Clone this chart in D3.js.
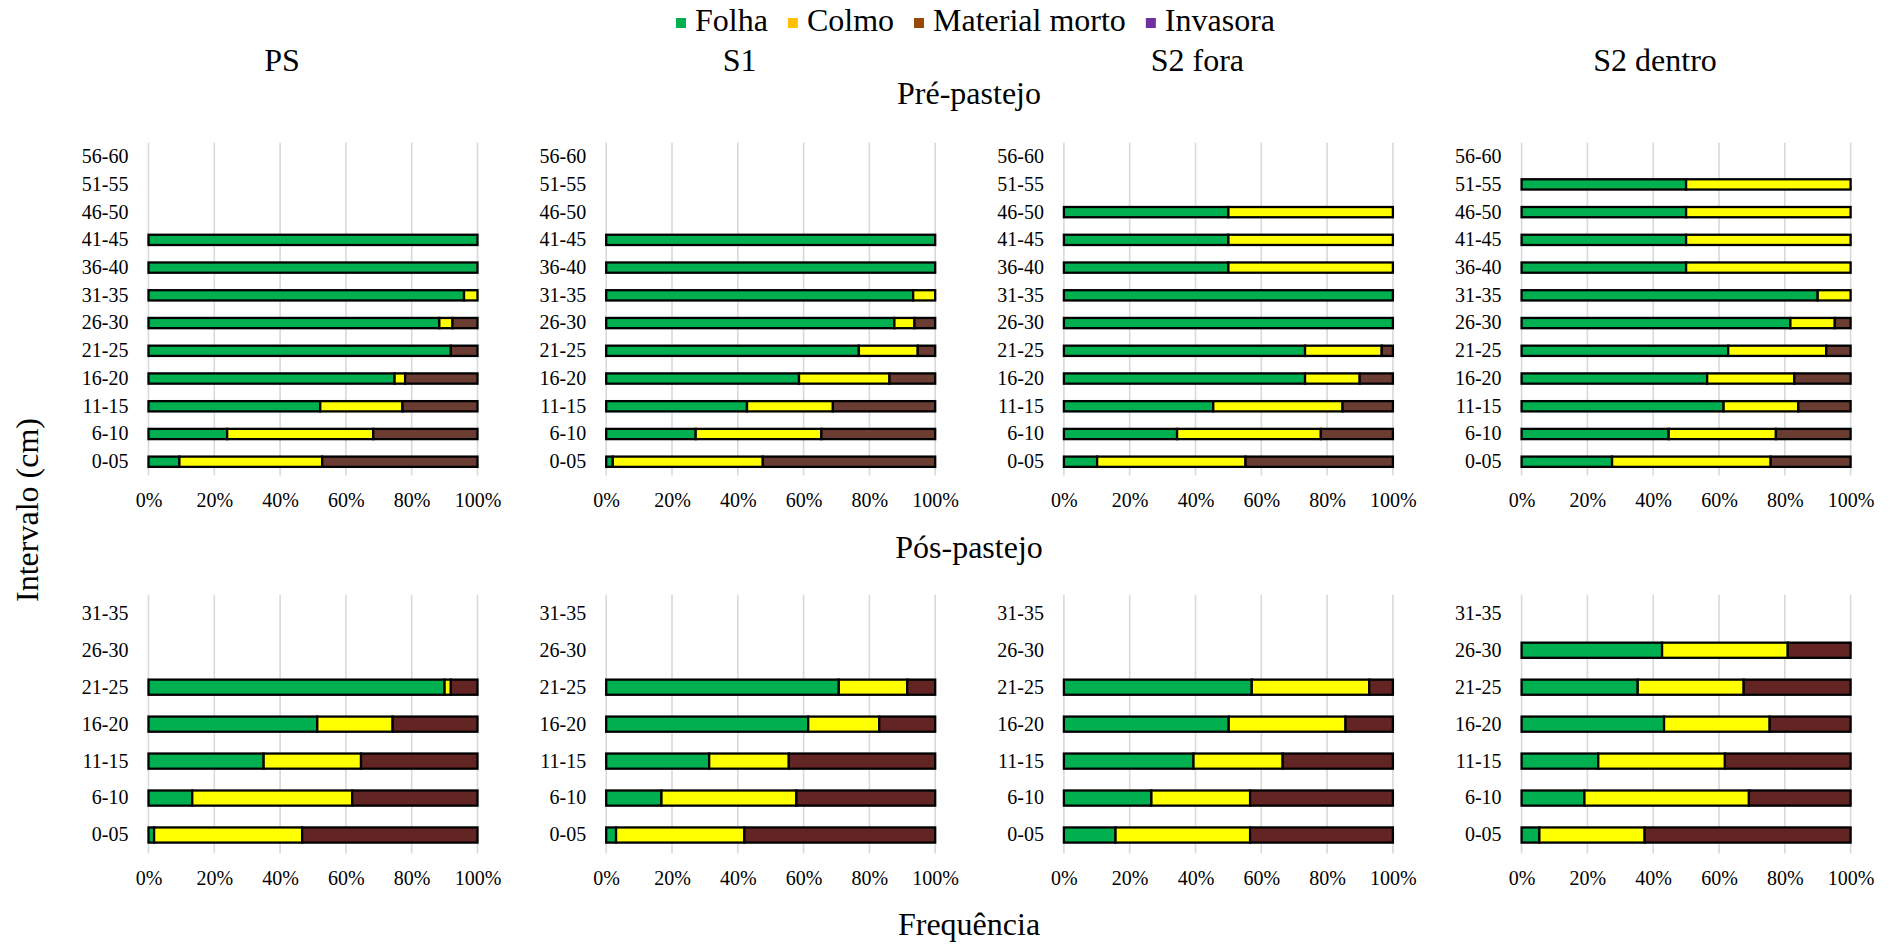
<!DOCTYPE html>
<html>
<head>
<meta charset="utf-8">
<script src="https://cdn.jsdelivr.net/npm/d3@7"></script>
<style>
  html, body { margin: 0; padding: 0; background: #fff; }
  svg { display: block; }
  svg text { font-family: "Liberation Serif", "Times New Roman", serif; }
</style>
</head>
<body>
<svg id="chart" width="1899" height="944"></svg>
<script>
// Height classes (cm), listed from the ground up
const preCategories = ["0-05","6-10","11-15","16-20","21-25","26-30","31-35","36-40","41-45","46-50","51-55","56-60"];
const posCategories = ["0-05","6-10","11-15","16-20","21-25","26-30","31-35"];
const groups = ["PS", "S1", "S2 fora", "S2 dentro"];
const series = ["Folha", "Colmo", "Material morto", "Invasora"];
const xTicks = [0, 0.2, 0.4, 0.6, 0.8, 1];

// Pré-pastejo: percentage of each component, one array per group (PS, S1, S2 fora, S2 dentro)
const preFolha = [
  [9.4, 23.9, 52.2, 74.8, 91.9, 88.4, 95.9, 100, 100, 0, 0, 0],
  [2.0, 27.2, 42.8, 58.6, 76.8, 87.6, 93.3, 100, 100, 0, 0, 0],
  [10.1, 34.4, 45.4, 73.3, 73.3, 100, 100, 50, 50, 50, 0, 0],
  [27.5, 44.7, 61.4, 56.4, 62.8, 81.7, 90.0, 50, 50, 50, 50, 0]
];
const preColmo = [
  [43.4, 44.4, 25.0, 3.2, 0, 4.0, 4.1, 0, 0, 0, 0, 0],
  [45.6, 38.2, 26.1, 27.5, 17.9, 6.1, 6.7, 0, 0, 0, 0, 0],
  [45.1, 43.7, 39.3, 16.6, 23.3, 0, 0, 50, 50, 50, 0, 0],
  [48.2, 32.6, 22.7, 26.5, 29.8, 13.5, 10.0, 50, 50, 50, 50, 0]
];
const preMorto = [
  [47.2, 31.7, 22.8, 22.0, 8.1, 7.6, 0, 0, 0, 0, 0, 0],
  [52.4, 34.6, 31.1, 13.9, 5.3, 6.3, 0, 0, 0, 0, 0, 0],
  [44.8, 21.9, 15.3, 10.1, 3.4, 0, 0, 0, 0, 0, 0, 0],
  [24.3, 22.7, 15.9, 17.1, 7.4, 4.8, 0, 0, 0, 0, 0, 0]
];
const preInvasora = [
  [0, 0, 0, 0, 0, 0, 0, 0, 0, 0, 0, 0],
  [0, 0, 0, 0, 0, 0, 0, 0, 0, 0, 0, 0],
  [0, 0, 0, 0, 0, 0, 0, 0, 0, 0, 0, 0],
  [0, 0, 0, 0, 0, 0, 0, 0, 0, 0, 0, 0]
];

// Pós-pastejo
const posFolha = [
  [1.7, 13.3, 35.0, 51.3, 90.0, 0, 0],
  [3.0, 16.8, 31.3, 61.4, 70.7, 0, 0],
  [15.7, 26.6, 39.4, 50.1, 57.1, 0, 0],
  [5.4, 19.1, 23.3, 43.3, 35.3, 42.7, 0]
];
const posColmo = [
  [45.0, 48.6, 29.6, 22.9, 1.9, 0, 0],
  [39.0, 41.0, 24.2, 21.6, 20.8, 0, 0],
  [40.9, 30.0, 27.1, 35.5, 35.7, 0, 0],
  [32.0, 50.0, 38.5, 32.1, 32.2, 38.2, 0]
];
const posMorto = [
  [53.3, 38.1, 35.4, 25.8, 8.1, 0, 0],
  [58.0, 42.2, 44.5, 17.0, 8.5, 0, 0],
  [43.4, 43.4, 33.5, 14.4, 7.2, 0, 0],
  [62.6, 30.9, 38.2, 24.6, 32.5, 19.1, 0]
];
const posInvasora = [
  [0, 0, 0, 0, 0, 0, 0],
  [0, 0, 0, 0, 0, 0, 0],
  [0, 0, 0, 0, 0, 0, 0],
  [0, 0, 0, 0, 0, 0, 0]
];

// ---- styles ----
const FONT = "Liberation Serif, Times New Roman, serif";
const legendColors = ["#00B050", "#FFC000", "#984807", "#7030A0"];
const preFills = ["#00B050", "#FFFF00", "#6B3D32", "#7030A0"];
const posFills = ["#00B050", "#FFFF00", "#632523", "#7030A0"];
const FONT_BIG = 32;
const FONT_TICK = 20;

const svg = d3.select("#chart");
svg.append("rect").attr("width", 1899).attr("height", 944).attr("fill", "#fff");

const panelLeft0 = 148.5, panelStep = 457.7, panelWidth = 329;

const rows = [
  { cats: preCategories, data: [preFolha, preColmo, preMorto, preInvasora], fills: preFills,
    top: 142.8, bottom: 475.6, padding: 0.63 },
  { cats: posCategories, data: [posFolha, posColmo, posMorto, posInvasora], fills: posFills,
    top: 594.8, bottom: 853.5, padding: 0.59 }
];

function buildRecords(cats, data, g) {
  return cats.map((c, i) => {
    const r = { cat: c };
    series.forEach((s, k) => { r[s] = data[k][g][i] / 100; });
    return r;
  });
}

rows.forEach(row => {
  const y = d3.scaleBand()
    .domain(row.cats.slice().reverse())
    .range([row.top, row.bottom])
    .paddingInner(row.padding)
    .paddingOuter(row.padding / 2);

  groups.forEach((gName, g) => {
    const left = panelLeft0 + g * panelStep;
    const x = d3.scaleLinear().domain([0, 1]).range([left, left + panelWidth]);
    const panel = svg.append("g");

    // vertical gridlines
    panel.append("g").selectAll("line")
      .data(xTicks)
      .join("line")
      .attr("x1", d => x(d)).attr("x2", d => x(d))
      .attr("y1", row.top).attr("y2", row.bottom)
      .attr("stroke", "#D9D9D9")
      .attr("stroke-width", 1.6);

    // stacked bars
    const records = buildRecords(row.cats, row.data, g);
    const stacked = d3.stack().keys(series)(records);
    stacked.forEach((layer, k) => {
      panel.append("g")
        .selectAll("rect")
        .data(layer.filter(d => d[1] - d[0] > 0))
        .join("rect")
        .attr("x", d => x(d[0]))
        .attr("width", d => x(d[1]) - x(d[0]))
        .attr("y", d => y(d.data.cat))
        .attr("height", y.bandwidth())
        .attr("fill", row.fills[k])
        .attr("stroke", "#000")
        .attr("stroke-width", 2.3);
    });

    // x axis
    const xAxis = panel.append("g")
      .attr("transform", `translate(0,${row.bottom})`)
      .call(d3.axisBottom(x).tickValues(xTicks).tickFormat(d3.format(".0%")).tickSize(0).tickPadding(17));
    xAxis.attr("font-family", FONT);
    xAxis.select(".domain").remove();
    xAxis.selectAll("text").attr("font-size", FONT_TICK).attr("font-family", FONT).attr("fill", "#000");

    // y axis
    const yAxis = panel.append("g")
      .attr("transform", `translate(${left},0)`)
      .call(d3.axisLeft(y).tickSize(0).tickPadding(20));
    yAxis.attr("font-family", FONT);
    yAxis.select(".domain").remove();
    yAxis.selectAll("text").attr("font-size", FONT_TICK).attr("font-family", FONT).attr("fill", "#000");
  });
});

function bigText(x, y, str) {
  return svg.append("text")
    .attr("x", x).attr("y", y)
    .attr("text-anchor", "middle")
    .attr("font-family", FONT)
    .attr("font-size", FONT_BIG)
    .attr("fill", "#000")
    .text(str);
}

// group titles
groups.forEach((gName, g) => {
  bigText(panelLeft0 + g * panelStep + panelWidth / 2 - 31, 71, gName);
});

// phase titles
bigText(969, 104, "Pré-pastejo");
bigText(969, 558, "Pós-pastejo");

// axis titles
bigText(969, 935, "Frequência");
bigText(0, 0, "Intervalo (cm)").attr("transform", "translate(38,510) rotate(-90)");

// legend
const legend = svg.append("g");
let lx = 676;
series.forEach((s, k) => {
  legend.append("rect")
    .attr("x", lx).attr("y", 18).attr("width", 10).attr("height", 10)
    .attr("fill", legendColors[k]);
  const t = legend.append("text")
    .attr("x", lx + 19).attr("y", 31)
    .attr("font-family", FONT)
    .attr("font-size", FONT_BIG)
    .attr("fill", "#000")
    .text(s);
  lx += 19 + t.node().getComputedTextLength() + 20;
});
</script>
</body>
</html>
